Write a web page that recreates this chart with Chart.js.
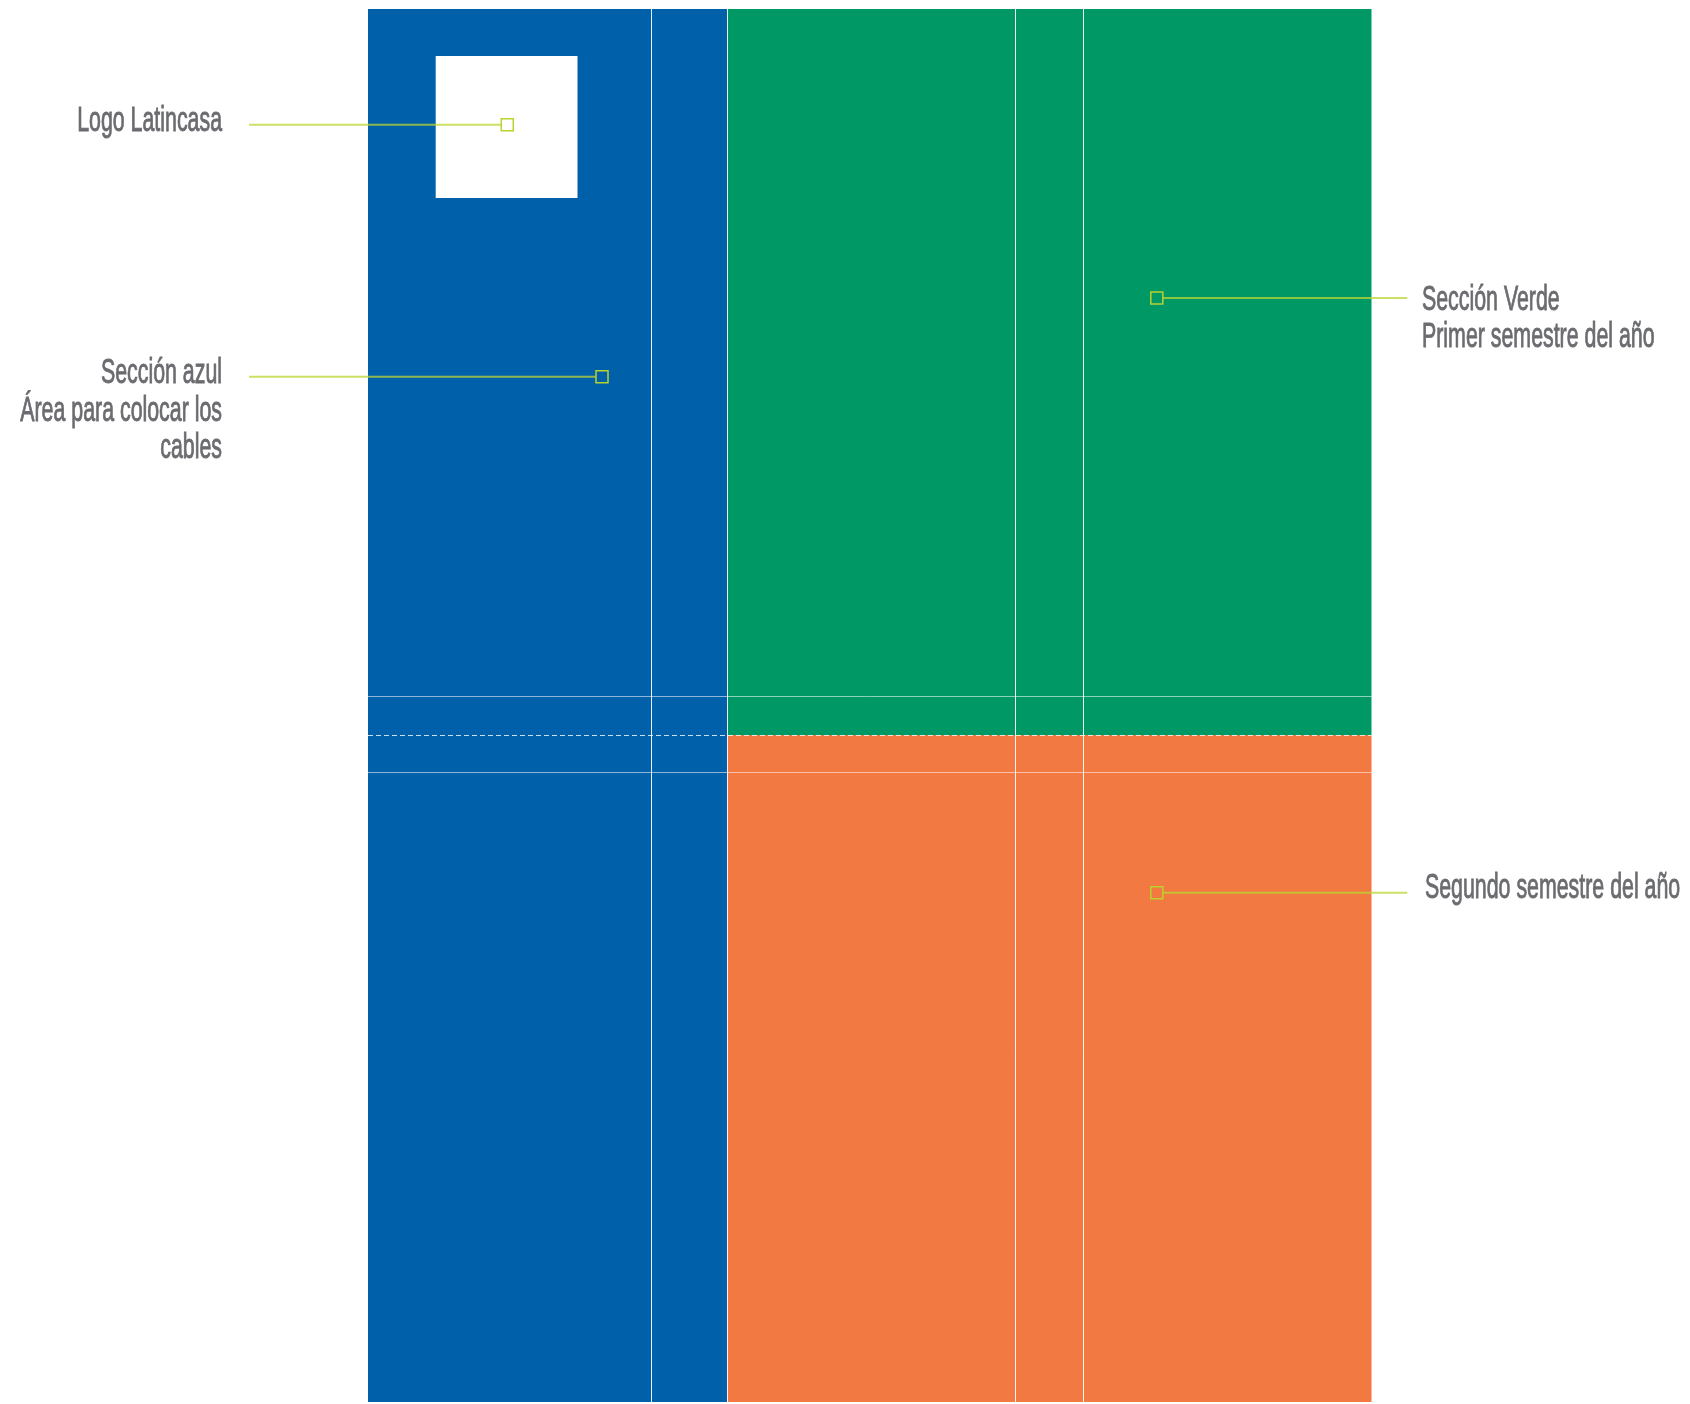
<!DOCTYPE html>
<html lang="es">
<head>
  <meta charset="UTF-8" />
  <title>Secciones del planificador</title>
  <script src="https://cdn.jsdelivr.net/npm/chart.js"></script>
  <style>
    body { margin: 0; background: #fff; overflow: hidden; }
    canvas { display: block; }
  </style>
</head>
<body>
  <canvas id="layoutChart" width="1690" height="1404"></canvas>

  <script>
    // secciones (unidades de maqueta, origen en la esquina superior izquierda del panel)
    const sectionNames = ['Sección azul', 'Sección verde', 'Segundo semestre', 'Logo'];
    const sectionX0 = [0, 35.9, 35.9, 6.77];
    const sectionX1 = [35.9, 100.35, 100.35, 20.95];
    const sectionY0 = [0, 0, 72.6, 4.7];
    const sectionY1 = [139.3, 72.6, 139.3, 18.9];
    const sectionColors = ['#0061aa', '#009966', '#f27941', '#ffffff'];

    // guias
    const guideX = [28.35, 35.95, 64.75, 71.55];
    const guideY = [68.75, 76.35];
    const foldY = 72.65;

    // llamadas
    const calloutLines = [
      ['Logo Latincasa'],
      ['Sección azul', 'Área para colocar los', 'cables'],
      ['Sección Verde', 'Primer semestre del año'],
      ['Segundo semestre del año']
    ];
    const calloutPointX = [13.93, 23.4, 78.88, 78.88];
    const calloutPointY = [11.57, 36.77, 28.9, 88.37];
    const calloutEndX = [-11.9, -11.9, 103.93, 103.93];
    const calloutTextX = [-14.6, -14.6, 105.4, 105.7];
    const calloutBaseY = [12.2, 37.4, 30.05, 88.9];
    const calloutAlign = ['right', 'right', 'left', 'left'];
    const calloutFill = ['#ffffff', '#0061aa', '#009966', '#f27941'];

    const datasets = [];

    sectionNames.forEach((name, i) => {
      datasets.push({
        label: name,
        data: [
          { x: sectionX0[i], y: sectionY0[i] },
          { x: sectionX1[i], y: sectionY0[i] },
          { x: sectionX1[i], y: sectionY1[i] },
          { x: sectionX0[i], y: sectionY1[i] },
          { x: sectionX0[i], y: sectionY0[i] }
        ],
        fill: 'shape',
        backgroundColor: sectionColors[i],
        borderColor: 'transparent',
        borderWidth: 0,
        pointRadius: 0,
        order: i === 3 ? 8 : 9
      });
    });

    guideX.forEach(x => {
      datasets.push({
        data: [{ x: x, y: 0 }, { x: x, y: 139.3 }],
        borderColor: 'rgba(255,255,255,0.55)',
        borderWidth: 1,
        pointRadius: 0,
        fill: false,
        order: 5
      });
    });

    guideY.forEach(y => {
      datasets.push({
        data: [{ x: 0, y: y }, { x: 100.35, y: y }],
        borderColor: 'rgba(255,255,255,0.55)',
        borderWidth: 1,
        pointRadius: 0,
        fill: false,
        order: 5
      });
    });

    datasets.push({
      data: [{ x: 0, y: foldY }, { x: 100.35, y: foldY }],
      borderColor: 'rgba(255,255,255,0.8)',
      borderWidth: 1,
      borderDash: [5, 3],
      pointRadius: 0,
      fill: false,
      order: 4
    });

    calloutLines.forEach((lines, i) => {
      datasets.push({
        data: [
          { x: calloutEndX[i], y: calloutPointY[i] },
          { x: calloutPointX[i], y: calloutPointY[i] }
        ],
        borderColor: 'rgba(190,214,48,0.75)',
        borderWidth: 2,
        fill: false,
        pointStyle: 'rect',
        pointRadius: [0, 8.5],
        pointBackgroundColor: calloutFill[i],
        pointBorderColor: '#b9d22c',
        pointBorderWidth: 1.5,
        order: 1
      });
    });

    // textos de las llamadas
    const calloutText = {
      id: 'calloutText',
      afterDatasetsDraw(chart) {
        const ctx = chart.ctx;
        const xs = chart.scales.x;
        const ys = chart.scales.y;
        ctx.save();
        ctx.fillStyle = '#6b6c70';
        ctx.strokeStyle = '#6b6c70';
        ctx.lineWidth = 0.9;
        ctx.font = "35px 'Liberation Sans', Arial, sans-serif";
        ctx.textBaseline = 'alphabetic';
        calloutLines.forEach((lines, i) => {
          lines.forEach((txt, j) => {
            const px = xs.getPixelForValue(calloutTextX[i]);
            const py = ys.getPixelForValue(calloutBaseY[i] + j * 3.75);
            ctx.save();
            ctx.translate(px, py);
            ctx.scale(0.61, 1);
            ctx.textAlign = calloutAlign[i];
            ctx.fillText(txt, 0, 0);
            ctx.strokeText(txt, 0, 0);
            ctx.restore();
          });
        });
        ctx.restore();
      }
    };

    new Chart(document.getElementById('layoutChart'), {
      type: 'line',
      data: { datasets: datasets },
      options: {
        responsive: false,
        animation: false,
        events: [],
        layout: { padding: 0, autoPadding: false },
        plugins: {
          legend: { display: false },
          tooltip: { enabled: false }
        },
        scales: {
          x: { type: 'linear', min: -36.8, max: 132.2, display: false },
          y: { type: 'linear', min: -0.9, max: 139.5, reverse: true, display: false }
        }
      },
      plugins: [calloutText]
    });
  </script>
</body>
</html>
